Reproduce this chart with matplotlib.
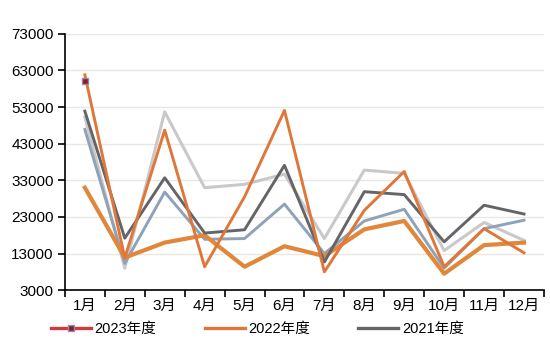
import matplotlib
matplotlib.use("Agg")
import matplotlib.pyplot as plt
from matplotlib.lines import Line2D
import numpy as np

months = ["1月", "2月", "3月", "4月", "5月", "6月", "7月", "8月", "9月", "10月", "11月", "12月"]
y2023 = [60000]
y2022 = [61800, 11800, 46700, 9400, 28500, 52100, 8000, 24800, 35400, 9400, 19800, 13200]
y2021 = [51900, 17200, 33700, 18600, 19500, 37100, 10700, 29900, 29100, 16200, 26200, 23800]
y_lightgray = [50300, 9000, 51700, 31000, 31900, 34700, 17100, 35800, 34900, 13800, 21500, 16600]
y_bluegray = [46900, 10300, 29800, 16900, 17100, 26500, 13000, 21900, 25100, 9000, 19800, 22100]
y_thick = [31000, 11900, 16000, 18000, 9400, 15000, 12300, 19600, 21900, 7500, 15300, 16000]
yticks = [3000, 13000, 23000, 33000, 43000, 53000, 63000, 73000]

plt.rcParams['font.family'] = ['Liberation Sans', 'Noto Sans CJK SC', 'DejaVu Sans']

fig = plt.figure(figsize=(5.5, 3.53), dpi=100)
ax = fig.add_axes([0.118, 0.178, 0.871, 0.726])

x = np.arange(len(months))
ax.plot(x, y_lightgray, color="#c9c9c9", lw=2.2, zorder=2)
ax.plot(x, y_bluegray, color="#8fa2b8", lw=2.1, zorder=3)
ax.plot(x, y_thick, color="#e0873a", lw=3.0, zorder=4)
ax.plot(x, y2021, color="#646569", lw=2.1, zorder=5)
ax.plot(x, y2022, color="#e0773a", lw=2.1, zorder=6)
ax.plot(x[:len(y2023)], y2023, color="#d2393f", lw=2.0, marker="s", ms=5,
        mfc="#8b1a2e", mec="#9a8aa8", mew=1, zorder=7)

ax.set_xlim(-0.5, 11.5)
ax.set_ylim(3000, 73000)
ax.set_yticks(yticks)
ax.set_yticklabels([str(v) for v in yticks], fontsize=11)
ax.grid(axis='y', color="#e9e7e1", lw=1, zorder=0)
ax.set_axisbelow(True)

ax.set_xticks(x)
ax.set_xticklabels(months, fontsize=11)
ax.tick_params(axis='x', which='major', length=0, pad=6)
ax.set_xticks(np.arange(-0.5, 12, 1), minor=True)
ax.tick_params(axis='x', which='minor', length=5, width=1.2, color='black', direction='out')
ax.tick_params(axis='y', length=5, width=1.2, direction='out', pad=3)

for s in ['top', 'right']:
    ax.spines[s].set_visible(False)
for s in ['left', 'bottom']:
    ax.spines[s].set_color('black')
    ax.spines[s].set_linewidth(1.2)

handles = [
    Line2D([], [], color="#d2393f", lw=2.4, marker="s", ms=5, mfc="#8b1a2e", mec="#9a8aa8"),
    Line2D([], [], color="#e0773a", lw=2.4),
    Line2D([], [], color="#646569", lw=2.4),
]
labels = ["2023年度", "2022年度", "2021年度"]
fig.legend(handles, labels, loc='center', bbox_to_anchor=(0.468, 0.068), ncol=3,
           frameon=False, fontsize=10.5, handlelength=2.75, handletextpad=0.25,
           columnspacing=3.3)

fig.savefig("out.png", dpi=100)
